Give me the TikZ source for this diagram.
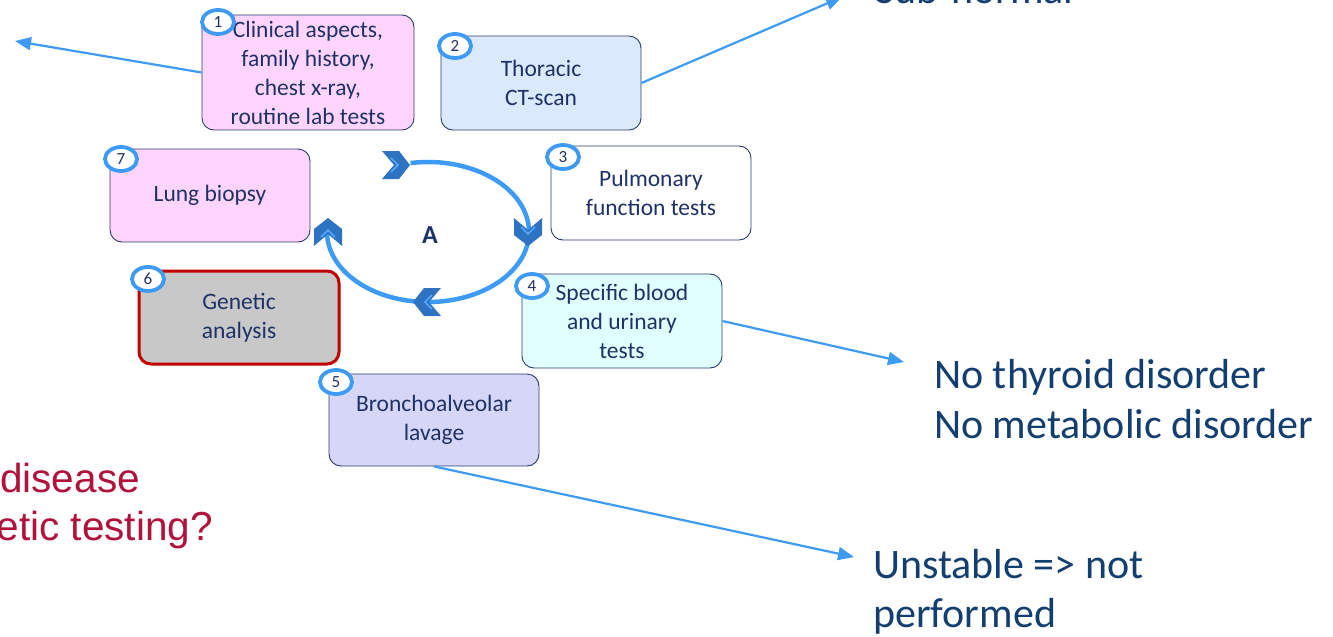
\documentclass[tikz,border=0pt]{standalone}
\usepackage{fontspec}
\setmainfont{Carlito}
\newfontfamily\arialfont{Liberation Sans}
\usetikzlibrary{arrows.meta,shapes.geometric,positioning}

\definecolor{boxtext}{HTML}{1F3267}
\definecolor{boxline}{HTML}{2A3A6E}
\definecolor{resulttext}{HTML}{123E70}
\definecolor{warntext}{HTML}{B0123B}
\definecolor{pinkfill}{HTML}{FFD5FF}
\definecolor{bluefill}{HTML}{DAEAFC}
\definecolor{cyanfill}{HTML}{E0FFFF}
\definecolor{lavfill}{HTML}{D6D6F8}
\definecolor{grayfill}{HTML}{C8C8C8}
\definecolor{genred}{HTML}{C00000}
\definecolor{cycleblue}{HTML}{3D9BF5}
\definecolor{chevdark}{HTML}{2E72C2}
\definecolor{chevlight}{HTML}{55A8FF}

\tikzset{
  stage/.style={draw=boxline, rounded corners=12pt, line width=0.9pt, text=boxtext,
    align=center, inner sep=0pt, font=\fontsize{23.5}{29}\selectfont},
  badge/.style={ellipse, draw=cycleblue, line width=3.8pt, fill=white, inner sep=0pt,
    minimum width=32pt, minimum height=24pt, text=boxtext, font=\fontsize{17}{17}\selectfont},
  link/.style={draw=cycleblue, line width=2.2pt, -{Triangle[length=16pt,width=13pt]}},
  result/.style={text=resulttext, anchor=base west, inner sep=0pt, font=\fontsize{42}{50}\selectfont},
  warn/.style={text=warntext, anchor=base east, inner sep=0pt, font=\arialfont\fontsize{40.5}{48}\selectfont},
  chevron/.pic={
    \fill[chevdark] (-14,-14) -- (3,-14) -- (14,0) -- (3,14) -- (-14,14) -- (-2,0) -- cycle;
    \draw[chevlight, line width=1.5pt] (-5,-7) -- (2,0) -- (-5,7);
  }
}

\begin{document}
\begin{tikzpicture}[x=1pt,y=-1pt]

\useasboundingbox (0,0) rectangle (1333,637);

% the seven steps
\node[stage, fill=pinkfill, minimum width=212pt, minimum height=115pt] (clin) at (308,72.5) {Clinical aspects,\\family history,\\chest x-ray,\\routine lab tests};
\node[stage, fill=bluefill, minimum width=200pt, minimum height=94pt] (thor) at (541,83) {Thoracic\\CT-scan};
\node[stage, fill=white, minimum width=200pt, minimum height=94pt] (pulm) at (651,193) {Pulmonary\\function tests};
\node[stage, fill=cyanfill, minimum width=200pt, minimum height=94pt] (blood) at (622,321) {Specific blood\\and urinary\\tests};
\node[stage, fill=lavfill, minimum width=210pt, minimum height=92pt] (bal) at (434,420) {Bronchoalveolar\\lavage};
\node[stage, fill=grayfill, draw=genred, line width=3pt, minimum width=200pt, minimum height=93pt] (genet) at (239,317.5) {Genetic\\analysis};
\node[stage, fill=pinkfill, minimum width=200pt, minimum height=93pt] (biopsy) at (210,195.5) {Lung biopsy};

\node[badge] (n1) at (218,22) {1};
\node[badge] (n2) at (455,46) {2};
\node[badge] (n3) at (563,157) {3};
\node[badge] (n4) at (532,286) {4};
\node[badge] (n5) at (336,382) {5};
\node[badge] (n6) at (148,279) {6};
\node[badge] (n7) at (121,159) {7};

% cycle
\draw[cycleblue, line width=4.5pt] ([shift={(-100:101 and 70)}]428,232) arc[start angle=-100, end angle=182, x radius=101, y radius=70];
\pic at (396,165) {chevron};
\pic[rotate=-90] at (528,232) {chevron};
\pic[rotate=180] at (427,302) {chevron};
\pic[rotate=90] at (328,232) {chevron};
\node[text=boxtext, font=\bfseries\fontsize{26}{26}\selectfont] (cyc) at (430,235) {A};

% findings
\coordinate (upleft) at (15,41);
\coordinate (upright) at (842,-3);
\coordinate (midright) at (904,362);
\coordinate (lowright) at (854,557);
\draw[link] (clin.west) -- (upleft);
\draw[link] (thor.east) -- (upright);
\draw[link] (blood.east) -- (midright);
\draw[link] (bal.south) -- (lowright);

\node[result] (subn) at (875,4) {Sub-normal};
\node[result] (nothy) at (934,388) {No thyroid disorder};
\node[result] (nometa) at (934,438) {No metabolic disorder};
\node[result] (unst) at (873,578) {Unstable => not};
\node[result] (perf) at (873,627) {performed};

\node[warn] (dis) at (140,492) {disease};
\node[warn] (gentest) at (213,540) {etic testing?};

\end{tikzpicture}
\end{document}
